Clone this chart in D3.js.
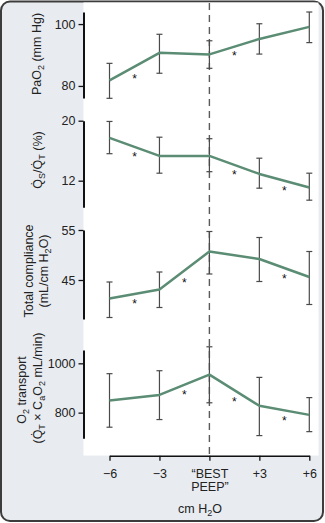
<!DOCTYPE html>
<html><head><meta charset="utf-8">
<script src="https://cdn.jsdelivr.net/npm/d3@7"></script>
<style>
html,body{margin:0;padding:0;background:#fff;}
svg{display:block;font-family:"Liberation Sans",Arial,Helvetica,sans-serif;}
</style>
</head><body>
<svg id="c" width="325" height="523"></svg>
<script>
// ---------- DATA ----------
const xCategories = ["−6", "−3", "“BEST|PEEP”", "+3", "+6"];
const xTitle = "cm H2O";

const pao2      = [81.8, 90.7, 90.2, 95.2, 99.1];
const pao2Hi    = [87.3, 96.7, 94.6, 100.1, 103.9];
const pao2Lo    = [76.0, 84.1, 85.7, 90.3, 94.0];
const pao2Stars = [[0.5, 83.3], [2.5, 90.6]];
const pao2Ticks = [80, 100];

const shunt      = [17.7, 15.3, 15.3, 12.9, 11.1];
const shuntHi    = [19.9, 17.8, 17.6, 15.0, 13.0];
const shuntLo    = [15.6, 13.0, 13.2, 11.0, 9.4];
const shuntStars = [[0.5, 15.5], [2.5, 13.1], [3.5, 11.05]];
const shuntTicks = [12, 20];

const compl      = [41.3, 43.1, 50.7, 49.2, 45.6];
const complHi    = [44.6, 46.6, 54.7, 53.5, 50.7];
const complLo    = [37.5, 39.5, 46.2, 44.7, 40.1];
const complStars = [[0.5, 40.8], [1.5, 45.0], [3.5, 45.9]];
const complTicks = [45, 55];

const o2t      = [849, 872, 954, 828, 791];
const o2tHi    = [958, 970, 1067, 943, 861];
const o2tLo    = [741, 772, 840, 707, 723];
const o2tStars = [[1.5, 884], [2.5, 855], [3.5, 780]];
const o2tTicks = [800, 1000];

// ---------- LAYOUT ----------
const svg = d3.select("#c");
const lineColor = "#5b8c74";
const errColor = "#4a4a4a";

svg.append("rect").attr("x", 1).attr("y", 1.5).attr("width", 322).attr("height", 519.5)
  .attr("rx", 9).attr("fill", "#e8ecf1").attr("stroke", "#3c3c3c").attr("stroke-width", 2);
svg.append("rect").attr("x", 83.5).attr("y", 2.5).attr("width", 235).attr("height", 453)
  .attr("fill", "#ffffff");

const x = d3.scaleLinear().domain([0, 4]).range([109.5, 309.3]);

// dashed BEST PEEP line
svg.append("line").attr("x1", x(2)).attr("x2", x(2)).attr("y1", 3).attr("y2", 455)
  .attr("stroke", "#5a5a5a").attr("stroke-width", 1.4).attr("stroke-dasharray", "7,5");

function rich(textSel, parts) {
  // parts: [text, isSub]
  let prevSub = false;
  parts.forEach(([t, sub]) => {
    const ts = textSel.append("tspan").text(t);
    if (sub && !prevSub) ts.attr("dy", 3).attr("font-size", "0.72em");
    else if (sub) ts.attr("font-size", "0.72em");
    else if (!sub && prevSub) ts.attr("dy", -3);
    prevSub = sub;
  });
}

const panels = [
  {vals: pao2, hi: pao2Hi, lo: pao2Lo, stars: pao2Stars, ticks: pao2Ticks,
   domain: [76.1, 103.9], range: [98, 12],
   labels: [{x: 37, y: 54, parts: [["PaO", false], ["2", true], [" (mm Hg)", false]]}]},
  {vals: shunt, hi: shuntHi, lo: shuntLo, stars: shuntStars, ticks: shuntTicks,
   domain: [8.45, 20], range: [207.3, 120.7],
   labels: [{x: 38, y: 160, parts: [["Q\u0307", false], ["S", true], ["/Q\u0307", false], ["T", true], [" (%)", false]]}]},
  {vals: compl, hi: complHi, lo: complLo, stars: complStars, ticks: complTicks,
   domain: [37.2, 55], range: [319, 230],
   labels: [{x: 29, y: 271, parts: [["Total compliance", false]]},
            {x: 44, y: 271, parts: [["(mL/cm H", false], ["2", true], ["O)", false]]}]},
  {vals: o2t, hi: o2tHi, lo: o2tLo, stars: o2tStars, ticks: o2tTicks,
   domain: [696, 1054], range: [438.3, 350],
   labels: [{x: 22, y: 390, parts: [["O", false], ["2", true], [" transport", false]]},
            {x: 38, y: 388, parts: [["(Q\u0307", false], ["T", true], [" × C", false], ["a", true], ["O", false], ["2", true], [" mL/min)", false]]}]}
];

panels.forEach(p => {
  const y = d3.scaleLinear().domain(p.domain).range(p.range);
  const g = svg.append("g");

  // axis
  const ax = g.append("g").attr("transform", "translate(83.5,0)")
    .call(d3.axisLeft(y).tickValues(p.ticks).tickSize(5).tickSizeOuter(0).tickFormat(d3.format("d")));
  ax.select(".domain").attr("stroke", "#111").attr("stroke-width", 2);
  ax.selectAll(".tick line").attr("stroke", "#111").attr("stroke-width", 1.3);
  ax.selectAll(".tick text").attr("font-size", 12.5).attr("fill", "#222")
    .attr("font-family", "Liberation Sans, Arial, sans-serif").attr("x", -8);

  // error bars
  const eb = g.append("g").attr("stroke", errColor).attr("stroke-width", 1.2);
  p.vals.forEach((v, i) => {
    eb.append("line").attr("x1", x(i)).attr("x2", x(i)).attr("y1", y(p.hi[i])).attr("y2", y(p.lo[i]));
    eb.append("line").attr("x1", x(i) - 3).attr("x2", x(i) + 3).attr("y1", y(p.hi[i])).attr("y2", y(p.hi[i]));
    eb.append("line").attr("x1", x(i) - 3).attr("x2", x(i) + 3).attr("y1", y(p.lo[i])).attr("y2", y(p.lo[i]));
  });

  // line
  g.append("path").datum(p.vals)
    .attr("d", d3.line().x((d, i) => x(i)).y(d => y(d)))
    .attr("fill", "none").attr("stroke", lineColor).attr("stroke-width", 2.5)
    .attr("stroke-linejoin", "round");

  // stars
  p.stars.forEach(([xi, v]) => {
    g.append("text").attr("x", x(xi)).attr("y", y(v)).attr("dy", 7)
      .attr("text-anchor", "middle").attr("font-size", 12).attr("fill", "#111").text("*");
  });

  // labels
  p.labels.forEach(l => {
    const t = svg.append("text")
      .attr("transform", `translate(${l.x},${l.y}) rotate(-90)`)
      .attr("text-anchor", "middle").attr("dy", "0.35em")
      .attr("font-size", 12.5).attr("fill", "#222");
    rich(t, l.parts);
  });
});

// x axis
const xa = svg.append("g").attr("transform", "translate(0,455.7)")
  .call(d3.axisBottom(x).tickValues([0, 1, 2, 3, 4]).tickSize(5).tickSizeOuter(0).tickFormat(() => ""));
xa.select(".domain").attr("stroke", "#111").attr("stroke-width", 1.6);
xa.selectAll(".tick line").attr("stroke", "#111").attr("stroke-width", 1.3);
xa.selectAll(".tick").each(function(d) {
  const lines = xCategories[d].split("|");
  const t = d3.select(this).append("text").attr("y", 22).attr("text-anchor", "middle")
    .attr("font-size", 12.5).attr("fill", "#222")
    .attr("font-family", "Liberation Sans, Arial, sans-serif");
  lines.forEach((ln, k) => t.append("tspan").attr("x", 0).attr("dy", k ? 13.5 : 0).text(ln));
});

const xt = svg.append("text").attr("x", 200).attr("y", 513).attr("text-anchor", "middle")
  .attr("font-size", 12.5).attr("fill", "#222");
rich(xt, [["cm H", false], ["2", true], ["O", false]]);
</script>
</body></html>
